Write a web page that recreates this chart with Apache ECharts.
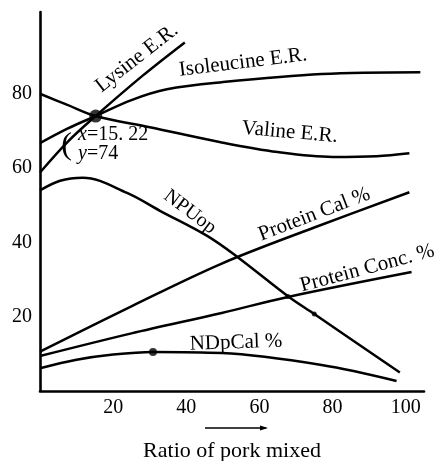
<!DOCTYPE html>
<html><head><meta charset="utf-8">
<script src="https://cdn.jsdelivr.net/npm/echarts@6/dist/echarts.min.js"></script>
<style>html,body{margin:0;padding:0;background:#fff}#c{width:445px;height:461px}</style>
</head><body><div id="c"></div>
<script>
// ---- data (x = ratio of pork mixed, y = value) ----
var xTicks = [20, 40, 60, 80, 100];
var yTicks = [20, 40, 60, 80];
var lysineER = [[0,58.8],[7.5,67],[15.22,74],[28,84.8],[39.6,93.8]];
var isoleucineER = [[0,66.7],[7.5,70.6],[15.22,74],[25,78.3],[34.7,81.2],[49.7,83.1],[77,85.3],[104,85.8]];
var valineER = [[0,80],[7.5,77],[15.22,74],[30,71],[49.7,66.9],[65,64.3],[80,63],[92,63.2],[101,64]];
var npuOp = [[0,54],[5.5,56.6],[11.7,57.4],[23.8,53.3],[32.8,48.5],[45.6,41.8],[53.8,36.2],[67.8,25.5],[75,20.7],[98.4,5]];
var proteinCal = [[0,10.6],[25,22.8],[49.7,34.3],[75,44],[101,53.5]];
var proteinConc = [[0,9.4],[25,15.5],[49.7,21],[67.8,25.3],[101.6,32]];
var ndpCal = [[0,6.1],[10,8.4],[20,9.8],[30.9,10.5],[49.7,10.2],[77,7],[97.5,2.7]];
var bigDot = [[15.22,74]];
var smallDots = [[30.9,10.5]];
var tinyDots = [[67.8,25.4],[75,20.7]];

var chart = echarts.init(document.getElementById('c'));
var FONT = '"Liberation Serif", "DejaVu Serif", serif';
function curve(d){
  return {type:'line', data:d, smooth:0.35, symbol:'none', silent:true,
    lineStyle:{color:'#000', width:2.5}, z:3};
}
chart.setOption({
  animation:false,
  backgroundColor:'#fff',
  grid:{left:40, right:21, top:12, bottom:70, outerBoundsMode:'none', containLabel:false},
  xAxis:{type:'value', min:0, max:105, interval:20,
    axisLine:{lineStyle:{color:'#000', width:2.6}},
    axisTick:{show:false}, splitLine:{show:false},
    axisLabel:{color:'#000', fontFamily:FONT, fontSize:20, margin:7,
      formatter:function(v){return xTicks.indexOf(v)>=0 ? String(v) : '';}},
    name:'Ratio of pork mixed', nameLocation:'middle', nameGap:49,
    nameTextStyle:{color:'#000', fontFamily:FONT, fontSize:22}
  },
  yAxis:{type:'value', min:0, max:102, interval:20,
    axisLine:{show:true, lineStyle:{color:'#000', width:2.6}},
    axisTick:{show:false}, splitLine:{show:false},
    axisLabel:{color:'#000', fontFamily:FONT, fontSize:20, margin:8,
      formatter:function(v){return yTicks.indexOf(v)>=0 ? String(v) : '';}}
  },
  series:[
    curve(lysineER), curve(isoleucineER), curve(valineER), curve(npuOp),
    curve(proteinCal), curve(proteinConc), curve(ndpCal),
    {type:'scatter', data:bigDot, symbolSize:13, itemStyle:{color:'#000'}, z:5, silent:true},
    {type:'scatter', data:smallDots, symbolSize:8, itemStyle:{color:'#000'}, z:5, silent:true},
    {type:'scatter', data:tinyDots, symbolSize:5, itemStyle:{color:'#000'}, z:5, silent:true}
  ]
});

// ---- annotations anchored in data coordinates ----
var notes = [
  {t:'Lysine E.R.', at:[26.5,89.6], rot:38, size:21},
  {t:'Isoleucine E.R.', at:[55.5,88.4], rot:7, size:21},
  {t:'Valine E.R.', at:[68.3,69.6], rot:-5, size:21},
  {t:'NPUop', at:[41,48.2], rot:-37, size:20},
  {t:'Protein Cal %', at:[75,47.5], rot:21, size:21},
  {t:'Protein Conc. %', at:[89.5,33], rot:15, size:21},
  {t:'NDpCal %', at:[53.6,13.0], rot:2, size:21}
];
var g = [];
notes.forEach(function(n){
  var p = chart.convertToPixel({gridIndex:0}, n.at);
  g.push({type:'text', x:p[0], y:p[1], rotation:n.rot*Math.PI/180, z:10,
    style:{text:n.t, fill:'#000', font:n.size+'px '+FONT, align:'center', verticalAlign:'middle'}});
});
var pa = chart.convertToPixel({gridIndex:0}, [10.4,66.4]);
g.push({type:'text', x:pa[0], y:pa[1], z:10,
  style:{text:'{i|x}=15. 22\n{i|y}=74', fill:'#000', font:'20px '+FONT, align:'left', verticalAlign:'middle', lineHeight:19,
    rich:{i:{fontStyle:'italic', fontFamily:FONT, fontSize:20, fill:'#000'}}}});
var pb = chart.convertToPixel({gridIndex:0}, [7.3,66.0]);
g.push({type:'text', x:pb[0], y:pb[1], z:10,
  style:{text:'(', fill:'#000', font:'32px '+FONT, align:'center', verticalAlign:'middle'}});
// arrow above axis title
g.push({type:'line', shape:{x1:205, y1:428, x2:266, y2:428}, style:{stroke:'#000', lineWidth:1.5}});
g.push({type:'polygon', shape:{points:[[268,428],[260,425.5],[260,430.5]]}, style:{fill:'#000'}});
chart.setOption({graphic:g});
</script></body></html>
